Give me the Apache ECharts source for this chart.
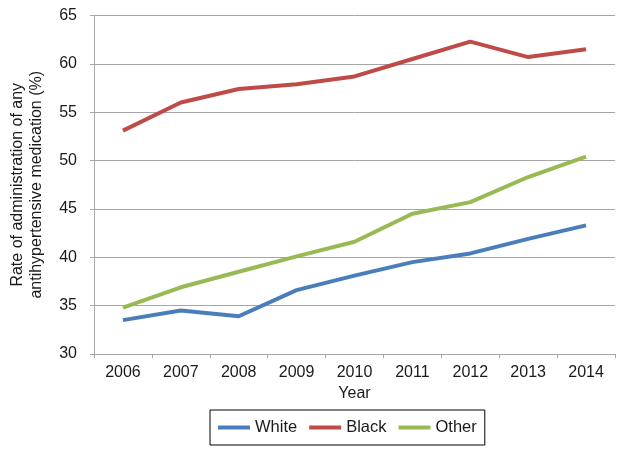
<!DOCTYPE html>
<html>
<head>
<meta charset="utf-8">
<script src="https://cdn.jsdelivr.net/npm/echarts@6/dist/echarts.min.js"></script>
<style>
html,body{margin:0;padding:0;background:#fff;}
#chart{width:624px;height:455px;}
</style>
</head>
<body>
<div id="chart"></div>
<script>
const years = ['2006','2007','2008','2009','2010','2011','2012','2013','2014'];
const white = [33.5, 34.5, 33.9, 36.6, 38.1, 39.5, 40.4, 41.9, 43.3];
const black = [53.1, 56.0, 57.4, 57.9, 58.7, 60.5, 62.3, 60.7, 61.5];
const other = [34.8, 36.9, 38.5, 40.1, 41.6, 44.5, 45.7, 48.3, 50.4];
const yTicks = { min: 30, max: 65, interval: 5 };

const font = 'Liberation Sans, Arial, sans-serif';
const txt = '#1a1a1a';
const gridCol = '#a6a6a6';

const chart = echarts.init(document.getElementById('chart'), null, { renderer: 'canvas' });
chart.setOption({
  animation: false,
  backgroundColor: '#fff',
  grid: { left: 90, right: 9, top: 15.5, bottom: 101, containLabel: false },
  legend: {
    left: 210, top: 410,
    padding: [9, 8, 9, 8],
    borderColor: '#000', borderWidth: 1,
    itemGap: 12, itemWidth: 32, itemHeight: 4,
    icon: 'rect',
    textStyle: { fontFamily: font, fontSize: 16.5, color: txt },
    data: ['White', 'Black', 'Other']
  },
  xAxis: {
    type: 'category',
    data: years,
    boundaryGap: true,
    name: 'Year',
    nameLocation: 'middle',
    nameGap: 32,
    nameTextStyle: { fontFamily: font, fontSize: 16, color: txt },
    axisLine: { lineStyle: { color: gridCol, width: 1 } },
    axisTick: { show: true, length: 4, lineStyle: { color: gridCol } },
    axisLabel: { fontFamily: font, fontSize: 16, color: txt, margin: 11 },
    splitLine: { show: false }
  },
  yAxis: {
    type: 'value',
    min: yTicks.min, max: yTicks.max, interval: yTicks.interval,
    name: 'Rate of administration of any\nantihypertensive medication (%)',
    nameLocation: 'middle',
    nameGap: 48,
    nameTextStyle: { fontFamily: font, fontSize: 16, color: txt, lineHeight: 19 },
    axisLine: { show: true, lineStyle: { color: gridCol, width: 1 } },
    axisTick: { show: true, length: 4, lineStyle: { color: gridCol } },
    axisLabel: { fontFamily: font, fontSize: 16, color: txt, margin: 17 },
    splitLine: { show: true, lineStyle: { color: gridCol, width: 1 } }
  },
  series: [
    { name: 'White', type: 'line', data: white, symbol: 'none', lineStyle: { color: '#4a7ebb', width: 4 }, itemStyle: { color: '#4a7ebb' } },
    { name: 'Black', type: 'line', data: black, symbol: 'none', lineStyle: { color: '#be4b48', width: 4 }, itemStyle: { color: '#be4b48' } },
    { name: 'Other', type: 'line', data: other, symbol: 'none', lineStyle: { color: '#98b954', width: 4 }, itemStyle: { color: '#98b954' } }
  ]
});
</script>
</body>
</html>
